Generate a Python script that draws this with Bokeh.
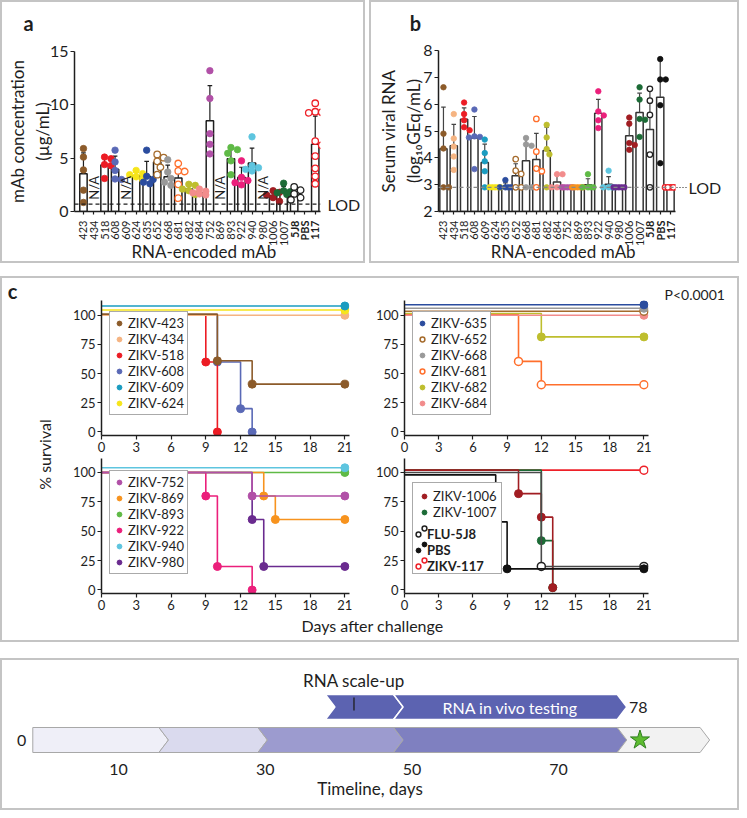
import math
from bokeh.plotting import figure
from bokeh.layouts import column, row
from bokeh.models import (ColumnDataSource, Span, FixedTicker, LinearAxis,
                          Legend, LegendItem, Spacer, Range1d)
from bokeh.core.properties import value
from bokeh.embed import file_html
from bokeh.resources import INLINE

FONT = "Lato"
INK = "#1e1e1e"
BOX = "#c4c4c4"

# ---------------------------------------------------------------- data
categories = ["423", "434", "518", "608", "609", "624", "635", "652", "668", "681", "682",
              "684", "752", "869", "893", "922", "940", "980", "1006", "1007", "5J8", "PBS", "117"]
bold_categories = ["5J8", "PBS", "117"]

cat_colors = {
    "423": "#8C5B2A", "434": "#F5B482", "518": "#EC1C24", "608": "#5A69B6", "609": "#1A9CC0",
    "624": "#F6E51B", "635": "#2B4C9E", "652": "#A56B2C", "668": "#999999", "681": "#FF6F2C",
    "682": "#BEBE2E", "684": "#F28C8C", "752": "#B150A7", "869": "#F7931E", "893": "#5FBA46",
    "922": "#EB1F7B", "940": "#5EC5DF", "980": "#6A2B8F", "1006": "#A11D22", "1007": "#1C6B36",
    "5J8": "#222222", "PBS": "#111111", "117": "#EE2028",
}
open_markers = ["652", "681", "5J8", "117"]

# panel a: mAb concentration (ug/mL); empty list = N/A
a_points = {
    "423": [5.9, 5.1, 3.9, 2.0, 0.85], "434": [],
    "518": [5.1, 4.95, 4.4, 4.3, 3.1], "608": [5.75, 4.65, 3.85, 3.05, 3.0], "609": [],
    "624": [3.85, 3.55, 3.45, 3.25, 3.0], "635": [5.75, 3.3, 3.0, 2.75, 2.6],
    "652": [5.35, 5.05, 4.7, 4.15, 3.45], "668": [4.85, 3.7, 3.1, 2.75, 2.45],
    "681": [4.5, 3.8, 3.75, 2.55, 1.25], "682": [2.55, 2.45, 2.1, 1.95, 1.6],
    "684": [2.1, 1.9, 1.75, 1.65, 1.55], "752": [13.2, 10.6, 7.3, 6.3, 5.4], "869": [],
    "893": [6.0, 5.8, 5.45, 4.75, 3.45], "922": [4.75, 3.2, 2.9, 2.7, 2.5],
    "940": [7.0, 4.3, 4.1, 3.95, 3.8], "980": [],
    "1006": [1.95, 1.8, 1.55, 1.3, 0.95], "1007": [2.65, 1.95, 1.85, 1.75, 1.6],
    "5J8": [2.3, 2.0, 1.65, 1.3, 1.1], "PBS": [],
    "117": [10.15, 9.35, 9.3, 9.25, 6.6, 6.2, 5.2, 4.05, 3.3, 2.6],
}
a_mean = {"423": 3.55, "518": 4.35, "608": 3.95, "624": 3.35, "635": 3.3, "652": 4.65,
          "668": 3.25, "681": 3.15, "682": 2.1, "684": 1.75, "752": 8.5, "893": 4.95,
          "922": 3.2, "940": 4.55, "1006": 1.5, "1007": 1.95, "5J8": 1.65, "117": 6.3}
a_sd = {"423": 1.95, "518": 0.7, "608": 1.25, "624": 0.35, "635": 1.4, "652": 0.75,
        "668": 1.1, "681": 1.2, "682": 0.4, "684": 0.25, "752": 3.3, "893": 0.95,
        "922": 0.95, "940": 1.4, "1006": 0.4, "1007": 0.4, "5J8": 0.5, "117": 2.65}
a_na = ["434", "609", "869", "980"]
a_lod = 0.7
a_yticks = [0, 5, 10, 15]

# panel b: serum viral RNA (log10 GEq/mL)
b_points = {
    "423": [6.63, 4.9, 4.35, 2.9, 2.9], "434": [5.63, 4.72, 4.42, 4.05, 3.55],
    "518": [6.06, 5.63, 5.4, 5.14, 5.03], "608": [5.8, 4.8, 4.78, 4.76, 3.58],
    "609": [4.68, 4.18, 3.87, 3.5, 2.9], "624": [2.9, 2.9, 2.9, 2.9, 2.9],
    "635": [3.17, 2.9, 2.9, 2.9, 2.9], "652": [3.95, 3.52, 3.4, 2.9, 2.9],
    "668": [4.74, 4.5, 4.45, 2.9, 2.9], "681": [5.45, 4.23, 3.6, 3.5, 2.9],
    "682": [5.23, 4.76, 4.33, 4.13, 2.9], "684": [3.39, 3.39, 2.9, 2.9, 2.9],
    "752": [2.9, 2.9, 2.9, 2.9, 2.9], "869": [2.9, 2.9, 2.9, 2.9, 2.9],
    "893": [3.39, 2.9, 2.9, 2.9, 2.9], "922": [6.48, 5.73, 5.58, 5.4, 5.11],
    "940": [3.52, 2.9, 2.9, 2.9, 2.9], "980": [2.9, 2.9, 2.9, 2.9, 2.9],
    "1006": [5.5, 5.27, 4.55, 4.48, 4.3], "1007": [6.63, 6.17, 5.45, 5.42, 4.78],
    "5J8": [6.57, 6.13, 5.6, 4.12, 2.9], "PBS": [7.68, 6.92, 6.92, 5.96, 3.8],
    "117": [2.9, 2.9, 2.9, 2.9, 2.9],
}
b_mean = {"423": 4.34, "434": 4.45, "518": 5.44, "608": 4.74, "609": 3.83, "624": 2.9,
          "635": 2.95, "652": 3.33, "668": 3.89, "681": 3.94, "682": 4.27, "684": 3.1,
          "752": 2.9, "869": 2.9, "893": 3.0, "922": 5.66, "940": 3.02, "980": 2.9,
          "1006": 4.82, "1007": 5.69, "5J8": 5.06, "PBS": 6.26, "117": 2.9}
b_sd = {"423": 1.55, "434": 0.8, "518": 0.42, "608": 0.8, "609": 0.68, "624": 0.0,
        "635": 0.12, "652": 0.45, "668": 0.86, "681": 0.97, "682": 0.87, "684": 0.27,
        "752": 0.0, "869": 0.0, "893": 0.22, "922": 0.52, "940": 0.28, "980": 0.0,
        "1006": 0.52, "1007": 0.72, "5J8": 1.5, "PBS": 1.42, "117": 0.0}
b_lod = 2.9
b_yticks = [2, 3, 4, 5, 6, 7, 8]

# panel c: Kaplan-Meier survival (day, % surviving)
km_days = {
    "423": [0, 10, 13, 21], "434": [0, 21], "518": [0, 9, 10], "608": [0, 10, 12, 13],
    "609": [0, 21], "624": [0, 21],
    "635": [0, 21], "652": [0, 21], "668": [0, 21], "681": [0, 10, 12, 21],
    "682": [0, 12, 21], "684": [0, 21],
    "752": [0, 13, 21], "869": [0, 14, 15, 21], "893": [0, 21], "922": [0, 9, 10, 13],
    "940": [0, 21], "980": [0, 13, 14, 21],
    "1006": [0, 10, 12, 13], "1007": [0, 12, 13], "5J8": [0, 12, 21], "PBS": [0, 8, 9, 21],
    "117": [0, 21],
}
km_surv = {
    "423": [100, 60, 40, 40], "434": [100, 100], "518": [100, 60, 0], "608": [100, 60, 20, 0],
    "609": [100, 100], "624": [100, 100],
    "635": [100, 100], "652": [100, 100], "668": [100, 100], "681": [100, 60, 40, 40],
    "682": [100, 80, 80], "684": [100, 100],
    "752": [100, 80, 80], "869": [100, 80, 60, 60], "893": [100, 100], "922": [100, 80, 20, 0],
    "940": [100, 100], "980": [100, 60, 20, 20],
    "1006": [100, 80, 60, 0], "1007": [100, 40, 0], "5J8": [100, 20, 20], "PBS": [100, 60, 20, 20],
    "117": [100, 100],
}
# vertical display nudge (percentage points) used in the original to separate overlapping curves
km_nudge = {"609": 8, "624": 4.5, "423": 1, "635": 9, "668": 6, "652": 3.5, "682": 1.5,
            "681": 0.5, "940": 4, "1006": 2, "1007": 2, "PBS": -2, "117": 2}
km_labels = {c: "ZIKV-" + c for c in categories}
km_labels["5J8"] = "FLU-5J8"
km_labels["PBS"] = "PBS"
km_line_colors = dict(cat_colors)
km_line_colors["5J8"] = "#4a4a4a"
# groups in draw order (bottom first) and legend order
km_panels = [
    (["608", "518", "434", "423", "624", "609"], ["423", "434", "518", "608", "609", "624"]),
    (["682", "681", "684", "652", "668", "635"], ["635", "652", "668", "681", "682", "684"]),
    (["893", "869", "980", "922", "752", "940"], ["752", "869", "893", "922", "940", "980"]),
    (["117", "1007", "1006", "5J8", "PBS"], ["1006", "1007", "5J8", "PBS", "117"]),
]
km_xticks = [0, 3, 6, 9, 12, 15, 18, 21]
km_yticks = [0, 25, 50, 75, 100]
p_value_text = "P<0.0001"

# timeline (days)
phase_edges = [-1.7, 15.5, 29.0, 47.5, 78.0, 89.3]
phase_colors = ["#EFEFF8", "#DADAEE", "#9C9BCF", "#7F80C0", "#F2F2F2"]
rna_edges = [38.2, 47.5, 78.0]
rna_color = "#5C63B1"
timeline_ticks = [10, 30, 50, 70]
timeline_end = 78
milestone_day = 81.1
scaleup_day = 42.1


# ---------------------------------------------------------------- helpers
def make_fig(w, h, xr, yr, bl, br, bt, bb, **kw):
    p = figure(width=w, height=h,
               x_range=xr if isinstance(xr, Range1d) else Range1d(*xr),
               y_range=yr if isinstance(yr, Range1d) else Range1d(*yr),
               output_backend="svg", toolbar_location=None,
               min_border_left=bl, min_border_right=br, min_border_top=bt, min_border_bottom=bb,
               outline_line_color=None, background_fill_color="white",
               border_fill_color="white", **kw)
    p.grid.grid_line_color = None
    return p


def text_strip(w, h):
    p = figure(width=w, height=h, x_range=Range1d(0, w), y_range=Range1d(0, h),
               output_backend="svg", toolbar_location=None, x_axis_location=None,
               y_axis_location=None, min_border=0, outline_line_color=None,
               background_fill_color="white", border_fill_color="white")
    p.grid.grid_line_color = None
    return p


def style_axis(ax, size, tick_out=4, standoff=2):
    ax.axis_line_color = INK
    ax.axis_line_width = 1.5
    ax.major_tick_line_color = INK
    ax.major_tick_line_width = 1.2
    ax.major_tick_in = 0
    ax.major_tick_out = tick_out
    ax.minor_tick_line_color = None
    ax.major_label_text_font = FONT
    ax.major_label_text_font_size = size
    ax.major_label_text_color = INK
    ax.major_label_standoff = standoff


def axis_title(ax, text, size, standoff):
    ax.axis_label = text
    ax.axis_label_text_font = FONT
    ax.axis_label_text_font_size = size
    ax.axis_label_text_font_style = "normal"
    ax.axis_label_text_color = INK
    ax.axis_label_standoff = standoff


def add_text(p, x, y, text, size, angle=0.0, align="center", baseline="middle",
             style="normal", color=INK):
    p.text(x=[x], y=[y], text=[text], angle=angle, text_align=align,
           text_baseline=baseline, text_font=value(FONT), text_font_size=value(size),
           text_font_style=value(style), text_color=color)


def swarm_offsets(vals, ppx, ppy, d, step, kmax):
    order = sorted(range(len(vals)), key=lambda i: -vals[i])
    cands = [0.0]
    for k in range(1, kmax + 1):
        cands += [k * step, -k * step]
    placed, out = [], [0.0] * len(vals)
    for i in order:
        ys = vals[i] * ppy
        best, bestd = 0.0, -1.0
        for c in cands:
            md = min((math.hypot(c - px, ys - py) for px, py in placed), default=1e9)
            if md >= d:
                best = c
                break
            if md > bestd:
                best, bestd = c, md
        placed.append((best, ys))
        out[i] = best / ppx
    return out


def bar_panel(points, means, sds, lod, yticks, w, h, xr, yr, bl, br, bt, bb,
              msize, base, bar_line, err_color, lod_color):
    p = make_fig(w, h, xr, yr, bl, br, bt, bb)
    fw, fh = w - bl - br, h - bt - bb
    ppx = fw / (xr[1] - xr[0])
    ppy = fh / (yr[1] - yr[0])
    idx = {c: i for i, c in enumerate(categories)}
    have = [c for c in categories if c in means]
    src = ColumnDataSource(dict(
        x=[idx[c] for c in have], top=[means[c] for c in have],
        up=[means[c] + sds[c] for c in have]))
    p.vbar(x="x", top="top", bottom=base, width=0.7, source=src,
           fill_color="white", line_color=bar_line, line_width=1.5)
    p.segment(x0="x", y0="top", x1="x", y1="up", source=src, line_color=err_color, line_width=1.2)
    cap = ColumnDataSource(dict(x0=[idx[c] - 0.22 for c in have], x1=[idx[c] + 0.22 for c in have],
                                y=[means[c] + sds[c] for c in have]))
    p.segment(x0="x0", y0="y", x1="x1", y1="y", source=cap, line_color=err_color, line_width=1.2)
    p.add_layout(Span(location=lod, dimension="width", line_color=lod_color,
                      line_dash="4 3", line_width=1.2))
    for c in categories:
        vals = points[c]
        if not vals:
            continue
        offs = swarm_offsets(vals, ppx, ppy, msize, msize * 0.5, 2)
        xs = [idx[c] + o for o in offs]
        is_open = c in open_markers
        p.scatter(xs, vals, marker="circle", size=msize,
                  fill_color="white" if is_open else cat_colors[c],
                  line_color=cat_colors[c], line_width=1.3 if is_open else 0.8)
    style_axis(p.yaxis[0], "16px", 4, 2)
    p.yaxis.ticker = FixedTicker(ticks=yticks)
    ax = p.xaxis[0]
    style_axis(ax, "11px", 3, 0)
    ax.ticker = FixedTicker(ticks=list(range(len(categories))))
    ax.major_label_overrides = {i: "" for i in range(len(categories))}
    return p


def category_strip(main, w, h, bl, br, title, title_y):
    s = make_fig(w, h, main.x_range, (0, h), bl, br, 0, 0,
                 x_axis_location=None, y_axis_location=None)
    s.text(x=list(range(len(categories))), y=[h - 1] * len(categories), text=categories,
           angle=math.pi / 2, text_align="right", text_baseline="middle",
           text_font=value(FONT), text_font_size=value("11px"),
           text_font_style=["bold" if c in bold_categories else "normal" for c in categories],
           text_color=INK)
    s.text(x=[(main.x_range.start + main.x_range.end) / 2 + 0.6], y=[title_y], text=[title],
           text_align="center", text_baseline="middle", text_font=value(FONT),
           text_font_size=value("17px"), text_color=INK)
    return s


def lod_axis(p, lod, tick_out, standoff, dash):
    ax = LinearAxis(ticker=FixedTicker(ticks=[lod]), major_label_overrides={lod: "LOD"})
    style_axis(ax, "16px", tick_out, standoff)
    ax.axis_line_color = None
    ax.major_tick_line_dash = dash
    if tick_out == 0:
        ax.major_tick_line_color = None
    p.add_layout(ax, "right")


# ---------------------------------------------------------------- panel a
TOP_H, MAIN_H, CAT_H = 36, 181, 42
pa = bar_panel(a_points, a_mean, a_sd, a_lod, a_yticks, 361, MAIN_H,
               (-0.85, 22.5), (0, 15), 72, 41, 13, 8, 6.5, 0, INK, INK, INK)
na_idx = [categories.index(c) for c in a_na]
pa.text(x=na_idx, y=[1.1] * len(na_idx), text=["N/A"] * len(na_idx), angle=math.pi / 2,
        text_align="left", text_baseline="middle", text_font=value(FONT),
        text_font_size=value("13px"), text_color=INK)
lod_axis(pa, a_lod, 0, 7, "solid")
axis_title(pa.yaxis[0], "mAb concentration\n(µg/mL)", "17px", -6)
ta = text_strip(361, TOP_H)
add_text(ta, 26, TOP_H - 20, "a", "20px", style="bold")
ba = category_strip(pa, 361, CAT_H, 72, 41, "RNA-encoded mAb", 10)
panel_a = column(row(ta), pa, ba)

# ---------------------------------------------------------------- panel b
pb = bar_panel(b_points, b_mean, b_sd, b_lod, b_yticks, 366, MAIN_H,
               (-0.48, 22.48), (2, 8), 67, 62, 12, 8, 5.5, 2, "#333333", "#444444", "#888888")
lod_axis(pb, b_lod, 11, 2, "1 2")
axis_title(pb.yaxis[0], "Serum viral RNA\n(log₁₀GEq/mL)", "17px", -4)
tb = text_strip(366, TOP_H)
add_text(tb, 44, TOP_H - 20, "b", "20px", style="bold")
bbs = category_strip(pb, 366, CAT_H, 67, 62, "RNA-encoded mAb", 10)
panel_b = column(row(tb), pb, bbs)


# ---------------------------------------------------------------- panel c
def km_plot(w, h, bl, br, bt, bb, ytop, draw_order):
    p = make_fig(w, h, (0, 21.4), (-3, ytop), bl, br, bt, bb)
    style_axis(p.xaxis[0], "13px", 4, 2)
    style_axis(p.yaxis[0], "13px", 4, 2)
    p.xaxis.ticker = FixedTicker(ticks=km_xticks)
    p.yaxis.ticker = FixedTicker(ticks=km_yticks)
    rends = {}
    for c in draw_order:
        nud = km_nudge.get(c, 0)
        ys = [v + nud for v in km_surv[c]]
        p.step(km_days[c], ys, mode="after", line_color=km_line_colors[c], line_width=1.6)
        is_open = c in open_markers
        rends[c] = p.scatter(km_days[c][1:], ys[1:], marker="circle", size=8,
                             fill_color="white" if is_open else cat_colors[c],
                             line_color=cat_colors[c], line_width=1.5 if is_open else 1)
    return p, rends


def legend_common(**kw):
    base = dict(location=(8, 20), spacing=0, margin=0, padding=3, label_height=16,
                glyph_height=16, glyph_width=12, label_standoff=3,
                label_text_font=FONT, label_text_font_size="13px", label_text_color=INK,
                border_line_color="#555555", border_line_width=1,
                background_fill_color="white", background_fill_alpha=1.0)
    base.update(kw)
    return base


ptl, r_tl = km_plot(315, 176, 44, 23, 22, 14, 112.7, km_panels[0][0])
ptr, r_tr = km_plot(286, 176, 28, 10, 22, 14, 112.7, km_panels[1][0])
pbl, r_bl = km_plot(315, 158, 44, 23, 4, 15, 111.9, km_panels[2][0])
pbr, r_br = km_plot(286, 158, 28, 10, 4, 15, 111.9, km_panels[3][0])

for p, rends, order, ly in [(ptl, r_tl, km_panels[0][1], 20), (ptr, r_tr, km_panels[1][1], 20),
                            (pbl, r_bl, km_panels[2][1], 19)]:
    items = [LegendItem(label=km_labels[c], renderers=[rends[c]]) for c in order]
    p.add_layout(Legend(items=items, **legend_common(location=(8, ly))))

# bottom-right legend: markers + regular labels, then bold labels laid over the last rows
br_order = km_panels[3][1]
items1 = [LegendItem(label=(km_labels[c] if c not in bold_categories else " "),
                     renderers=[r_br[c]]) for c in br_order]
pbr.add_layout(Legend(items=items1, **legend_common(location=(8, 19), padding=5)))
items2 = [LegendItem(label=km_labels[c], renderers=[r_br[c]]) for c in br_order
          if c in bold_categories]
pbr.add_layout(Legend(items=items2, **legend_common(location=(8, 19), padding=5,
                                                   border_line_color=None,
                                                   background_fill_alpha=0.0,
                                                   label_text_font_style="bold")))

C_H = 362
lc = text_strip(55, C_H)
add_text(lc, 10, C_H - 12, "c", "20px", style="bold")
add_text(lc, 42, C_H - 176, "% survival", "16px", angle=math.pi / 2)
rc = text_strip(79, C_H)
add_text(rc, 6, C_H - 16, p_value_text, "14px", align="left")
xc = text_strip(601, 28)
add_text(xc, 315, 15, "Days after challenge", "16px")
panel_c = row(lc, column(row(ptl, ptr), row(pbl, pbr), xc), rc)

# ---------------------------------------------------------------- timeline
pt = make_fig(735, 148, (-5.83, 94.4), (0, 100), 0, 0, 0, 48, y_axis_location=None)
axt = pt.xaxis[0]
style_axis(axt, "16px", 0, 3)
axt.axis_line_color = None
axt.major_tick_line_color = None
axt.ticker = FixedTicker(ticks=timeline_ticks)
axis_title(axt, "Timeline, days", "17px", 0)

DD = 1.3


def chevron(a, b, y0, y1, notch):
    ym = (y0 + y1) / 2
    return ([a, b, b + DD, b, a, a + DD if notch else a], [y1, y1, ym, y0, y0, ym])


xs_l, ys_l = [], []
for i in range(len(phase_colors)):
    xx, yy = chevron(phase_edges[i], phase_edges[i + 1], 8, 33, i > 0)
    xs_l.append(xx)
    ys_l.append(yy)
pt.patches(xs_l, ys_l, fill_color=phase_colors, line_color="#a8a8a8", line_width=1)
xs_u, ys_u = [], []
for i in range(len(rna_edges) - 1):
    xx, yy = chevron(rna_edges[i], rna_edges[i + 1], 41, 66, True)
    xs_u.append(xx)
    ys_u.append(yy)
pt.patches(xs_u, ys_u, fill_color=rna_color, line_color="white", line_width=1.5)
pt.scatter([milestone_day], [20.5], marker="star", size=20, fill_color="#5DBB30",
           line_color="#2F7F1F", line_width=1)
pt.segment(x0=[scaleup_day], y0=[50], x1=[scaleup_day], y1=[63], line_color=INK, line_width=1.3)
add_text(pt, scaleup_day, 80, "RNA scale-up", "17px")
add_text(pt, (rna_edges[1] + rna_edges[2]) / 2 + DD / 2, 53.5, "RNA in vivo testing", "16px",
         color="white")
add_text(pt, timeline_end + 1.6, 53.5, str(timeline_end), "16px", align="left")
add_text(pt, -2.6, 20.5, "0", "16px", align="right")

# ---------------------------------------------------------------- layout
border = {"border": f"2px solid {BOX}"}
box_a = column(panel_a, styles=border)
box_b = column(panel_b, styles=border)
top = row(box_a, Spacer(width=4), box_b)
box_c = column(panel_c, styles=border)
box_t = column(pt, styles=border)
layout = column(top, Spacer(height=13), box_c, Spacer(height=16), box_t)

open("out.html", "w").write(file_html(layout, INLINE))
